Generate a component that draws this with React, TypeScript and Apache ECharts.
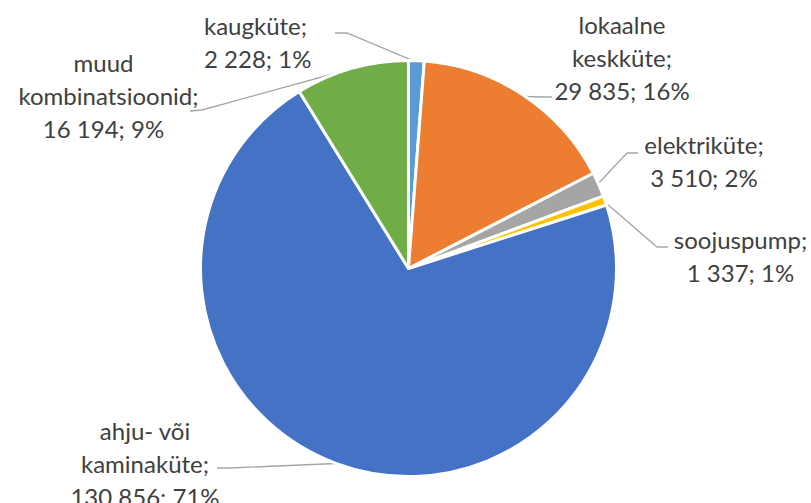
import React, { useEffect, useRef } from "react";
import * as echarts from "echarts";

const categories = [
  "kaugküte",
  "lokaalne keskküte",
  "elektriküte",
  "soojuspump",
  "ahju- või kaminaküte",
  "muud kombinatsioonid",
];
const values = [2228, 29835, 3510, 1337, 130856, 16194];
const colors = ["#5B9BD5", "#ED7D31", "#A5A5A5", "#FFC000", "#4472C4", "#70AD47"];

// label placement (text anchor + leader line points), in pixels
const labelPlacement = [
  { x: 204, y: 41.5, align: "left", wrap: false, pad: 0, line: [[416.4, 62.2], [347, 33], [335, 33]] },
  { x: 622, y: 57, align: "center", wrap: true, pad: 0, line: [[522.7, 96.5], [545, 97], [552, 97]] },
  { x: 704, y: 161, align: "center", wrap: false, pad: 0, line: [[597.4, 184.5], [627, 153], [638, 153]] },
  { x: 740.5, y: 256, align: "center", wrap: false, pad: 0, line: [[603.7, 201], [657, 247], [668, 247]] },
  { x: 145, y: 463, align: "center", wrap: true, pad: 0, line: [[336, 463.5], [230, 468], [217, 468]] },
  { x: 103.5, y: 95.5, align: "center", wrap: true, pad: 10, line: [[351, 69], [202, 110], [190, 111]] },
];

const fmt = (v: number) => String(v).replace(/\B(?=(\d{3})+(?!\d))/g, " ");

export default function App() {
  const ref = useRef<HTMLDivElement>(null);
  useEffect(() => {
    document.body.style.margin = "0";
    const chart = echarts.init(ref.current!, null, { renderer: "svg" });
    const textStyle = {
      fontFamily: "Lato",
      fontSize: 24,
      color: "#404040",
      lineHeight: 33,
    };
    chart.setOption({
      animation: false,
      backgroundColor: "#ffffff",
      series: [
        {
          type: "pie",
          center: [408.5, 268.5],
          radius: 208,
          startAngle: 90,
          clockwise: true,
          percentPrecision: 0,
          avoidLabelOverlap: false,
          itemStyle: { borderColor: "#ffffff", borderWidth: 3 },
          data: categories.map((c, i) => ({
            name: c,
            value: values[i],
            itemStyle: { color: colors[i] },
          })),
          label: {
            show: true,
            position: "outside",
            ...textStyle,
            rich: {
              t: { ...textStyle },
              k: { ...textStyle, padding: [0, 0, 0, 10] },
            },
            formatter: (p: any) => {
              const L = labelPlacement[p.dataIndex];
              let nameLines: string[];
              if (L.wrap) {
                const start = p.name.indexOf("- ") >= 0 ? p.name.indexOf("- ") + 2 : 0;
                const idx = p.name.indexOf(" ", start);
                nameLines = [p.name.slice(0, idx), p.name.slice(idx + 1)];
              } else {
                nameLines = [p.name];
              }
              nameLines[nameLines.length - 1] += ";";
              const lines = [...nameLines, `${fmt(p.value)}; ${p.percent}%`];
              return lines
                .map((s, i) => (L.pad && i === 1 ? `{k|${s}}` : `{t|${s}}`))
                .join("\n");
            },
          },
          labelLine: {
            show: true,
            length: 10,
            length2: 10,
            lineStyle: { color: "#a6a6a6", width: 1.3 },
          },
          labelLayout: (params: any) => {
            const L = labelPlacement[params.dataIndex];
            return {
              x: L.x,
              y: L.y,
              align: L.align,
              verticalAlign: "middle",
              labelLinePoints: L.line,
            };
          },
        },
      ],
    });
    return () => chart.dispose();
  }, []);
  return <div ref={ref} style={{ width: 811, height: 503 }} />;
}
